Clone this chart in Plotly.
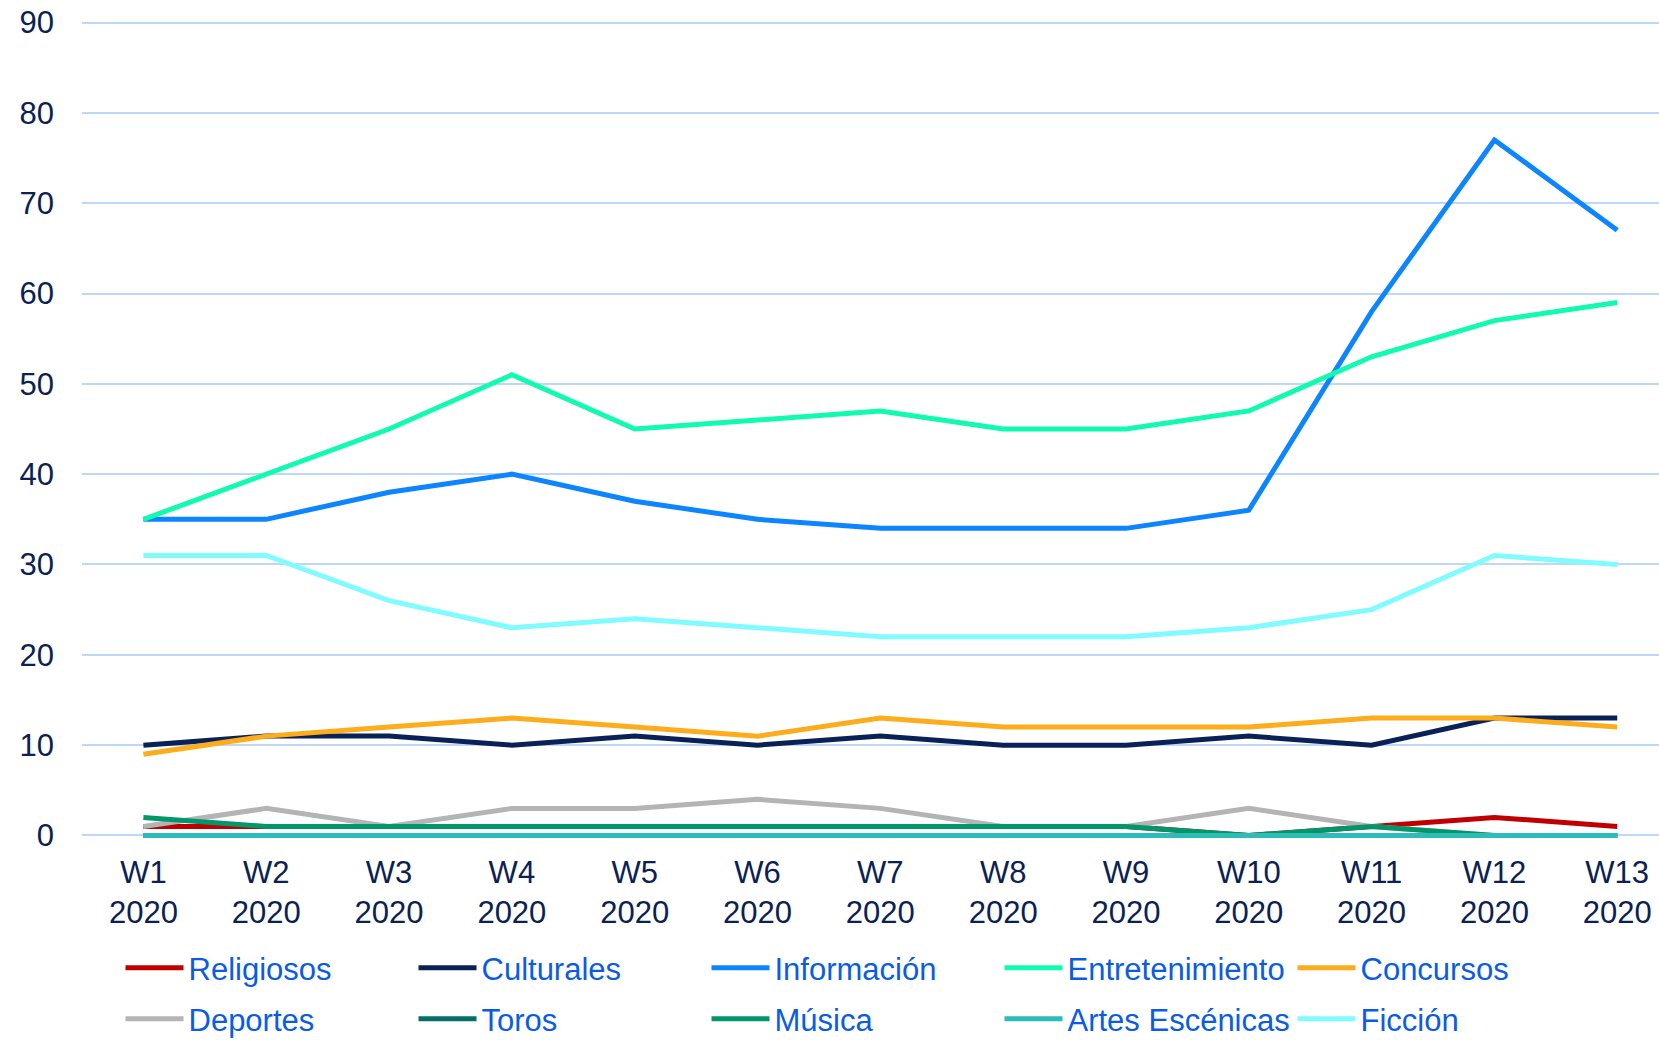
import plotly.graph_objects as go

categories = ["W1<br>2020", "W2<br>2020", "W3<br>2020", "W4<br>2020", "W5<br>2020", "W6<br>2020",
              "W7<br>2020", "W8<br>2020", "W9<br>2020", "W10<br>2020", "W11<br>2020", "W12<br>2020", "W13<br>2020"]

religiosos = [1, 1, 1, 1, 1, 1, 1, 1, 1, 0, 1, 2, 1]
culturales = [10, 11, 11, 10, 11, 10, 11, 10, 10, 11, 10, 13, 13]
informacion = [35, 35, 38, 40, 37, 35, 34, 34, 34, 36, 58, 77, 67]
entretenimiento = [35, 40, 45, 51, 45, 46, 47, 45, 45, 47, 53, 57, 59]
concursos = [9, 11, 12, 13, 12, 11, 13, 12, 12, 12, 13, 13, 12]
deportes = [1, 3, 1, 3, 3, 4, 3, 1, 1, 3, 1, 0, 0]
toros = [0, 0, 0, 0, 0, 0, 0, 0, 0, 0, 0, 0, 0]
musica = [2, 1, 1, 1, 1, 1, 1, 1, 1, 0, 1, 0, 0]
artes = [0, 0, 0, 0, 0, 0, 0, 0, 0, 0, 0, 0, 0]
ficcion = [31, 31, 26, 23, 24, 23, 22, 22, 22, 23, 25, 31, 30]

series = [
    ("Religiosos", religiosos, "#C00000", "legend"),
    ("Culturales", culturales, "#0A2157", "legend"),
    ("Información", informacion, "#0C85FF", "legend"),
    ("Entretenimiento", entretenimiento, "#10FBB0", "legend"),
    ("Concursos", concursos, "#FDAC1C", "legend"),
    ("Deportes", deportes, "#B4B4B4", "legend2"),
    ("Toros", toros, "#046E68", "legend2"),
    ("Música", musica, "#02976B", "legend2"),
    ("Artes Escénicas", artes, "#2CBDB8", "legend2"),
    ("Ficción", ficcion, "#80FBFF", "legend2"),
]

fig = go.Figure()
for name, vals, color, lg in series:
    fig.add_trace(go.Scatter(
        x=list(range(len(categories))), y=vals, name=name, mode="lines",
        line=dict(color=color, width=5), cliponaxis=False, legend=lg,
    ))

tick_color = "#0B2154"
legend_font = dict(size=31, color="#0B5CE5", family="Liberation Sans, Arial, sans-serif")
legend_common = dict(
    orientation="h", xref="container", yref="container",
    x=(148.5 - 28) / 1659, xanchor="left", yanchor="middle",
    itemwidth=58,
    entrywidth=248 - 28, entrywidthmode="pixels",
    font=legend_font, bgcolor="rgba(0,0,0,0)", traceorder="normal",
)

fig.update_layout(
    width=1659, height=1040,
    margin=dict(l=82, r=0, t=18, b=200, autoexpand=False),
    plot_bgcolor="white", paper_bgcolor="white",
    font=dict(family="Liberation Sans, Arial, sans-serif", size=31, color=tick_color),
    xaxis=dict(
        range=[-0.5, 12.34], tickmode="array",
        tickvals=list(range(len(categories))), ticktext=categories,
        showgrid=False, zeroline=False, showline=False, automargin=False,
        ticklabelstandoff=11,
        tickfont=dict(size=31, color=tick_color),
    ),
    yaxis=dict(
        range=[-0.5, 90.5], tickvals=[0, 10, 20, 30, 40, 50, 60, 70, 80, 90],
        showgrid=True, gridcolor="#C0D8F8", gridwidth=1.5,
        zeroline=False, showline=False, automargin=False,
        ticklabelstandoff=27,
        tickfont=dict(size=31, color=tick_color),
    ),
    showlegend=True,
    legend=dict(legend_common, y=(1040 - 968) / 1040),
    legend2=dict(legend_common, y=(1040 - 1019) / 1040),
)

fig.write_html(
    "out.html",
    config={"displayModeBar": False},
    post_script="document.body.style.margin='0';document.body.style.overflow='hidden';",
)
